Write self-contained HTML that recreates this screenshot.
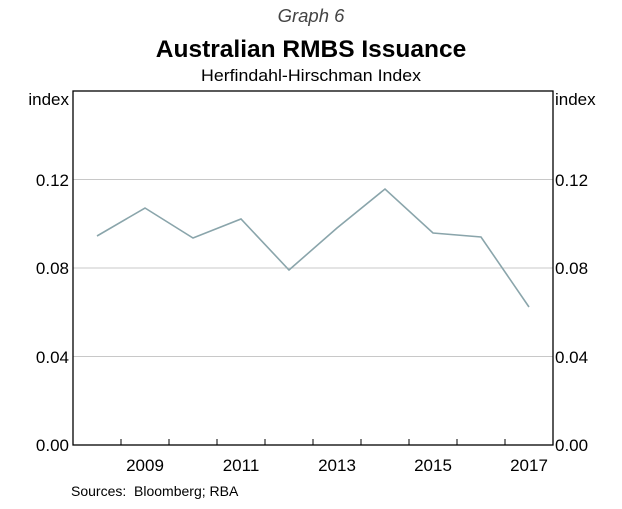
<!DOCTYPE html>
<html><head><meta charset="utf-8"><style>
html,body{margin:0;padding:0;background:#fff;}
</style></head><body>
<svg width="622" height="504" xmlns="http://www.w3.org/2000/svg" font-family="Liberation Sans, sans-serif">
<rect width="622" height="504" fill="#fff"/>
<text x="311" y="22" text-anchor="middle" font-size="18.5" font-style="italic" fill="#444">Graph 6</text>
<text x="311" y="57" text-anchor="middle" font-size="24.5" font-weight="bold" fill="#000">Australian RMBS Issuance</text>
<text x="311" y="81" text-anchor="middle" font-size="17" fill="#000" textLength="220" lengthAdjust="spacingAndGlyphs">Herfindahl-Hirschman Index</text>
<g stroke="#c8c8c8" stroke-width="1">
<line x1="73" y1="179.5" x2="553" y2="179.5"/>
<line x1="73" y1="268" x2="553" y2="268"/>
<line x1="73" y1="356.5" x2="553" y2="356.5"/>
</g>
<rect x="73" y="91" width="480" height="354" fill="none" stroke="#000" stroke-width="1.3"/>
<g stroke="#000" stroke-width="1">
<line x1="121" y1="445" x2="121" y2="439"/><line x1="169" y1="445" x2="169" y2="439"/>
<line x1="217" y1="445" x2="217" y2="439"/><line x1="265" y1="445" x2="265" y2="439"/>
<line x1="313" y1="445" x2="313" y2="439"/><line x1="361" y1="445" x2="361" y2="439"/>
<line x1="409" y1="445" x2="409" y2="439"/><line x1="457" y1="445" x2="457" y2="439"/>
<line x1="505" y1="445" x2="505" y2="439"/>
</g>
<polyline fill="none" stroke="#8aa5ab" stroke-width="1.6" points="97,236 145,208 193,238 241,219 289,270 337,228 385,189 433,233 481,237 529,307"/>
<g font-size="17" fill="#000">
<text x="69" y="105" text-anchor="end">index</text>
<text x="69" y="186" text-anchor="end">0.12</text>
<text x="69" y="274" text-anchor="end">0.08</text>
<text x="69" y="363" text-anchor="end">0.04</text>
<text x="69" y="451" text-anchor="end">0.00</text>
<text x="555" y="105">index</text>
<text x="555" y="186">0.12</text>
<text x="555" y="274">0.08</text>
<text x="555" y="363">0.04</text>
<text x="555" y="451">0.00</text>
<text x="145" y="471" text-anchor="middle">2009</text>
<text x="241" y="471" text-anchor="middle">2011</text>
<text x="337" y="471" text-anchor="middle">2013</text>
<text x="433" y="471" text-anchor="middle">2015</text>
<text x="529" y="471" text-anchor="middle">2017</text>
</g>
<text x="71" y="496" font-size="14" fill="#000" xml:space="preserve">Sources:  Bloomberg; RBA</text>
</svg>
</body></html>
